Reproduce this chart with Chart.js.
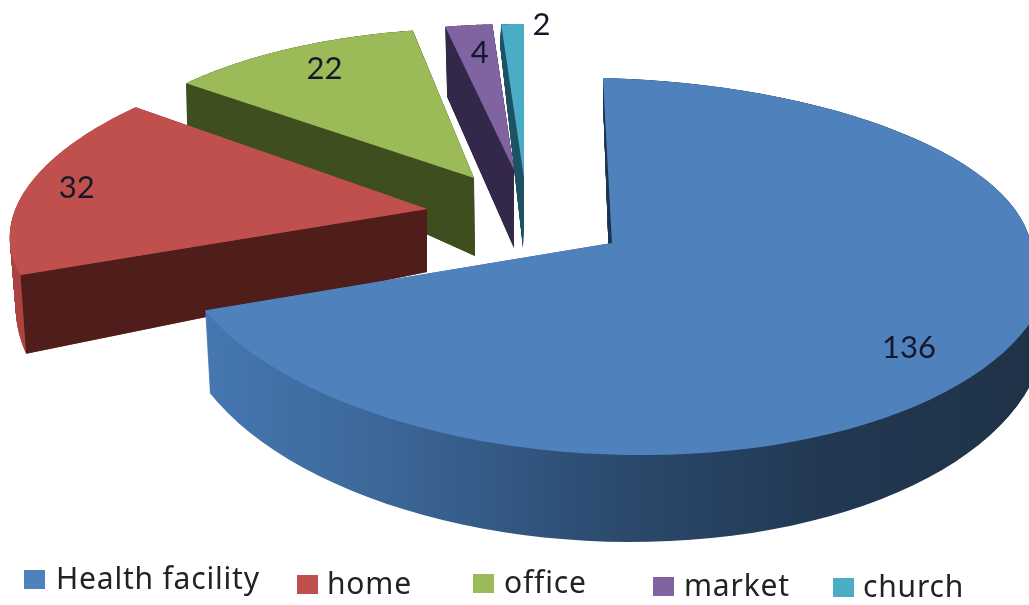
<!DOCTYPE html>
<html>
<head>
<meta charset="utf-8">
<title>Place of care</title>
<script src="https://cdn.jsdelivr.net/npm/chart.js@4"></script>
<style>
  html, body { margin: 0; padding: 0; background: #fff; }
  canvas { display: block; }
</style>
</head>
<body>
<canvas id="myPieChart" width="1029" height="605"></canvas>
<script>
// chart values
const categories = ["Health facility", "home", "office", "market", "church"];
const counts = [136, 32, 22, 4, 2];
const topColors = ["#4f81bd", "#c0504d", "#9bbb59", "#8064a2", "#4bacc6"];

// colours of the fake 3d walls
const wallColors = ["#1b3350", "#4f1e1a", "#3f4e1f", "#332849", "#1c5263"];
const rimColors = [
  ["#4677b1", "#3a6494", "#2b4a6e", "#223852", "#1f3247"],
  ["#ad4341"],
  ["#3f4e1f"],
  ["#332849"],
  ["#1c5263"],
];

// plain face: same stretch above and below the centre
function flatFace(x, y, a, b, ry, c) {
  return { x, y, aUp: a, aLo: a, bUp: b, bLo: b, ryUp: ry, ryLo: ry, cUp: c, cLo: c };
}

// how each exploded slice is laid down on the page (top face, then bottom face)
const topFaces = [
  { x: 612, y: 243, aUp: 420, aLo: 440, bUp: -9, bLo: -17, ryUp: 165, ryLo: 212, cUp: 10, cLo: 6 },
  flatFace(427, 209, 414, 52, 172, -7),
  flatFace(474, 178, 377, 11, 150, 1.5),
  flatFace(514, 170, 370, 2, 146, 0),
  flatFace(524, 178, 356, 0, 154, 0),
];
const bottomFaces = [
  { x: 611, y: 314, aUp: 420, aLo: 435, bUp: -8, bLo: -20, ryUp: 214, ryLo: 228, cUp: 0, cLo: 0 },
  flatFace(427, 272, 408, 52, 218, -7),
  flatFace(475, 256, 377, 11, 208, 0),
  flatFace(514, 248, 360, 2, 154, 0),
  flatFace(523, 248, 356, 0, 203, 0),
];

// value labels: how far out on the slice, plus a nudge
const labelSpots = [
  { r: 0.82, dx: -7, dy: 2 },
  { r: 0.87, dx: -2, dy: -3 },
  { r: 0.82, dx: 3, dy: -3 },
  { r: 0.8, dx: 2, dy: -1 },
  { r: 1, dx: 29, dy: 1 },
];

// legend entries sit slightly downhill, like the original
const legendSpots = [
  { box: 24, text: 56, base: 589 },
  { box: 297, text: 327, base: 594 },
  { box: 473, text: 504, base: 593 },
  { box: 653, text: 684, base: 596 },
  { box: 833, text: 863, base: 597 },
];

function mixFace(p, q, t) {
  const out = {};
  for (const k in p) out[k] = p[k] + (q[k] - p[k]) * t;
  return out;
}

// angle of the arc element -> page position
function project(f, angle, r) {
  const u = Math.cos(angle);
  const w = Math.sin(angle);
  const up = w < 0;
  const a = up ? f.aUp : f.aLo;
  const b = up ? f.bUp : f.bLo;
  const ry = up ? f.ryUp : f.ryLo;
  const c = up ? f.cUp : f.cLo;
  return { x: f.x + r * (a * u - b * w), y: f.y + r * (ry * w + c * u) };
}

function traceSlice(ctx, el, f) {
  ctx.beginPath();
  ctx.moveTo(f.x, f.y);
  const steps = 90;
  for (let s = 0; s <= steps; s++) {
    const angle = el.startAngle + (el.endAngle - el.startAngle) * (s / steps);
    const p = project(f, angle, 1);
    ctx.lineTo(p.x, p.y);
  }
  ctx.closePath();
}

function rimFill(ctx, stops) {
  const g = ctx.createLinearGradient(205, 0, 1029, 0);
  stops.forEach((c, i) => g.addColorStop(stops.length > 1 ? i / (stops.length - 1) : 0, c));
  return g;
}

const sliced3d = {
  id: "sliced3d",
  beforeDatasetsDraw(chart) {
    const ctx = chart.ctx;
    const arcs = chart.getDatasetMeta(0).data;
    ctx.save();

    // back to front
    for (let i = arcs.length - 1; i >= 0; i--) {
      const el = arcs[i];
      const top = topFaces[i];
      const bottom = bottomFaces[i];

      ctx.fillStyle = rimFill(ctx, rimColors[i]);
      for (let s = 100; s >= 0; s--) {
        traceSlice(ctx, el, mixFace(top, bottom, s / 100));
        ctx.fill();
      }

      // the cut wall at the start of the slice
      const a = project(top, el.startAngle, 1);
      const b = project(bottom, el.startAngle, 1);
      ctx.fillStyle = wallColors[i];
      ctx.beginPath();
      ctx.moveTo(top.x, top.y);
      ctx.lineTo(a.x, a.y);
      ctx.lineTo(b.x, b.y);
      ctx.lineTo(bottom.x, bottom.y);
      ctx.closePath();
      ctx.fill();

      traceSlice(ctx, el, top);
      ctx.fillStyle = el.options.backgroundColor;
      ctx.fill();
    }

    // value labels
    ctx.font = '31px Lato';
    ctx.fillStyle = "#14182a";
    ctx.textAlign = "center";
    ctx.textBaseline = "middle";
    arcs.forEach((el, i) => {
      const spot = labelSpots[i];
      const mid = (el.startAngle + el.endAngle) / 2;
      const p = project(topFaces[i], mid, spot.r);
      ctx.fillText(String(chart.data.datasets[0].data[i]), p.x + spot.dx, p.y + spot.dy);
    });

    // legend
    ctx.font = '30px "Noto Sans"';
    ctx.letterSpacing = "0.8px";
    ctx.textAlign = "left";
    ctx.textBaseline = "alphabetic";
    chart.data.labels.forEach((name, i) => {
      const spot = legendSpots[i];
      ctx.fillStyle = topColors[i];
      ctx.fillRect(spot.box, spot.base - 19, 21, 19);
      ctx.fillStyle = "#222";
      ctx.fillText(name, spot.text, spot.base);
    });

    ctx.restore();
    return false;
  },
};

const careChart = new Chart(document.getElementById("myPieChart"), {
  type: "pie",
  data: {
    labels: categories,
    datasets: [
      {
        data: counts,
        backgroundColor: topColors,
        borderWidth: 0,
      },
    ],
  },
  options: {
    responsive: false,
    animation: false,
    plugins: {
      legend: {
        display: false,
      },
      tooltip: {
        enabled: false,
      },
    },
  },
  plugins: [sliced3d],
});
</script>
</body>
</html>
